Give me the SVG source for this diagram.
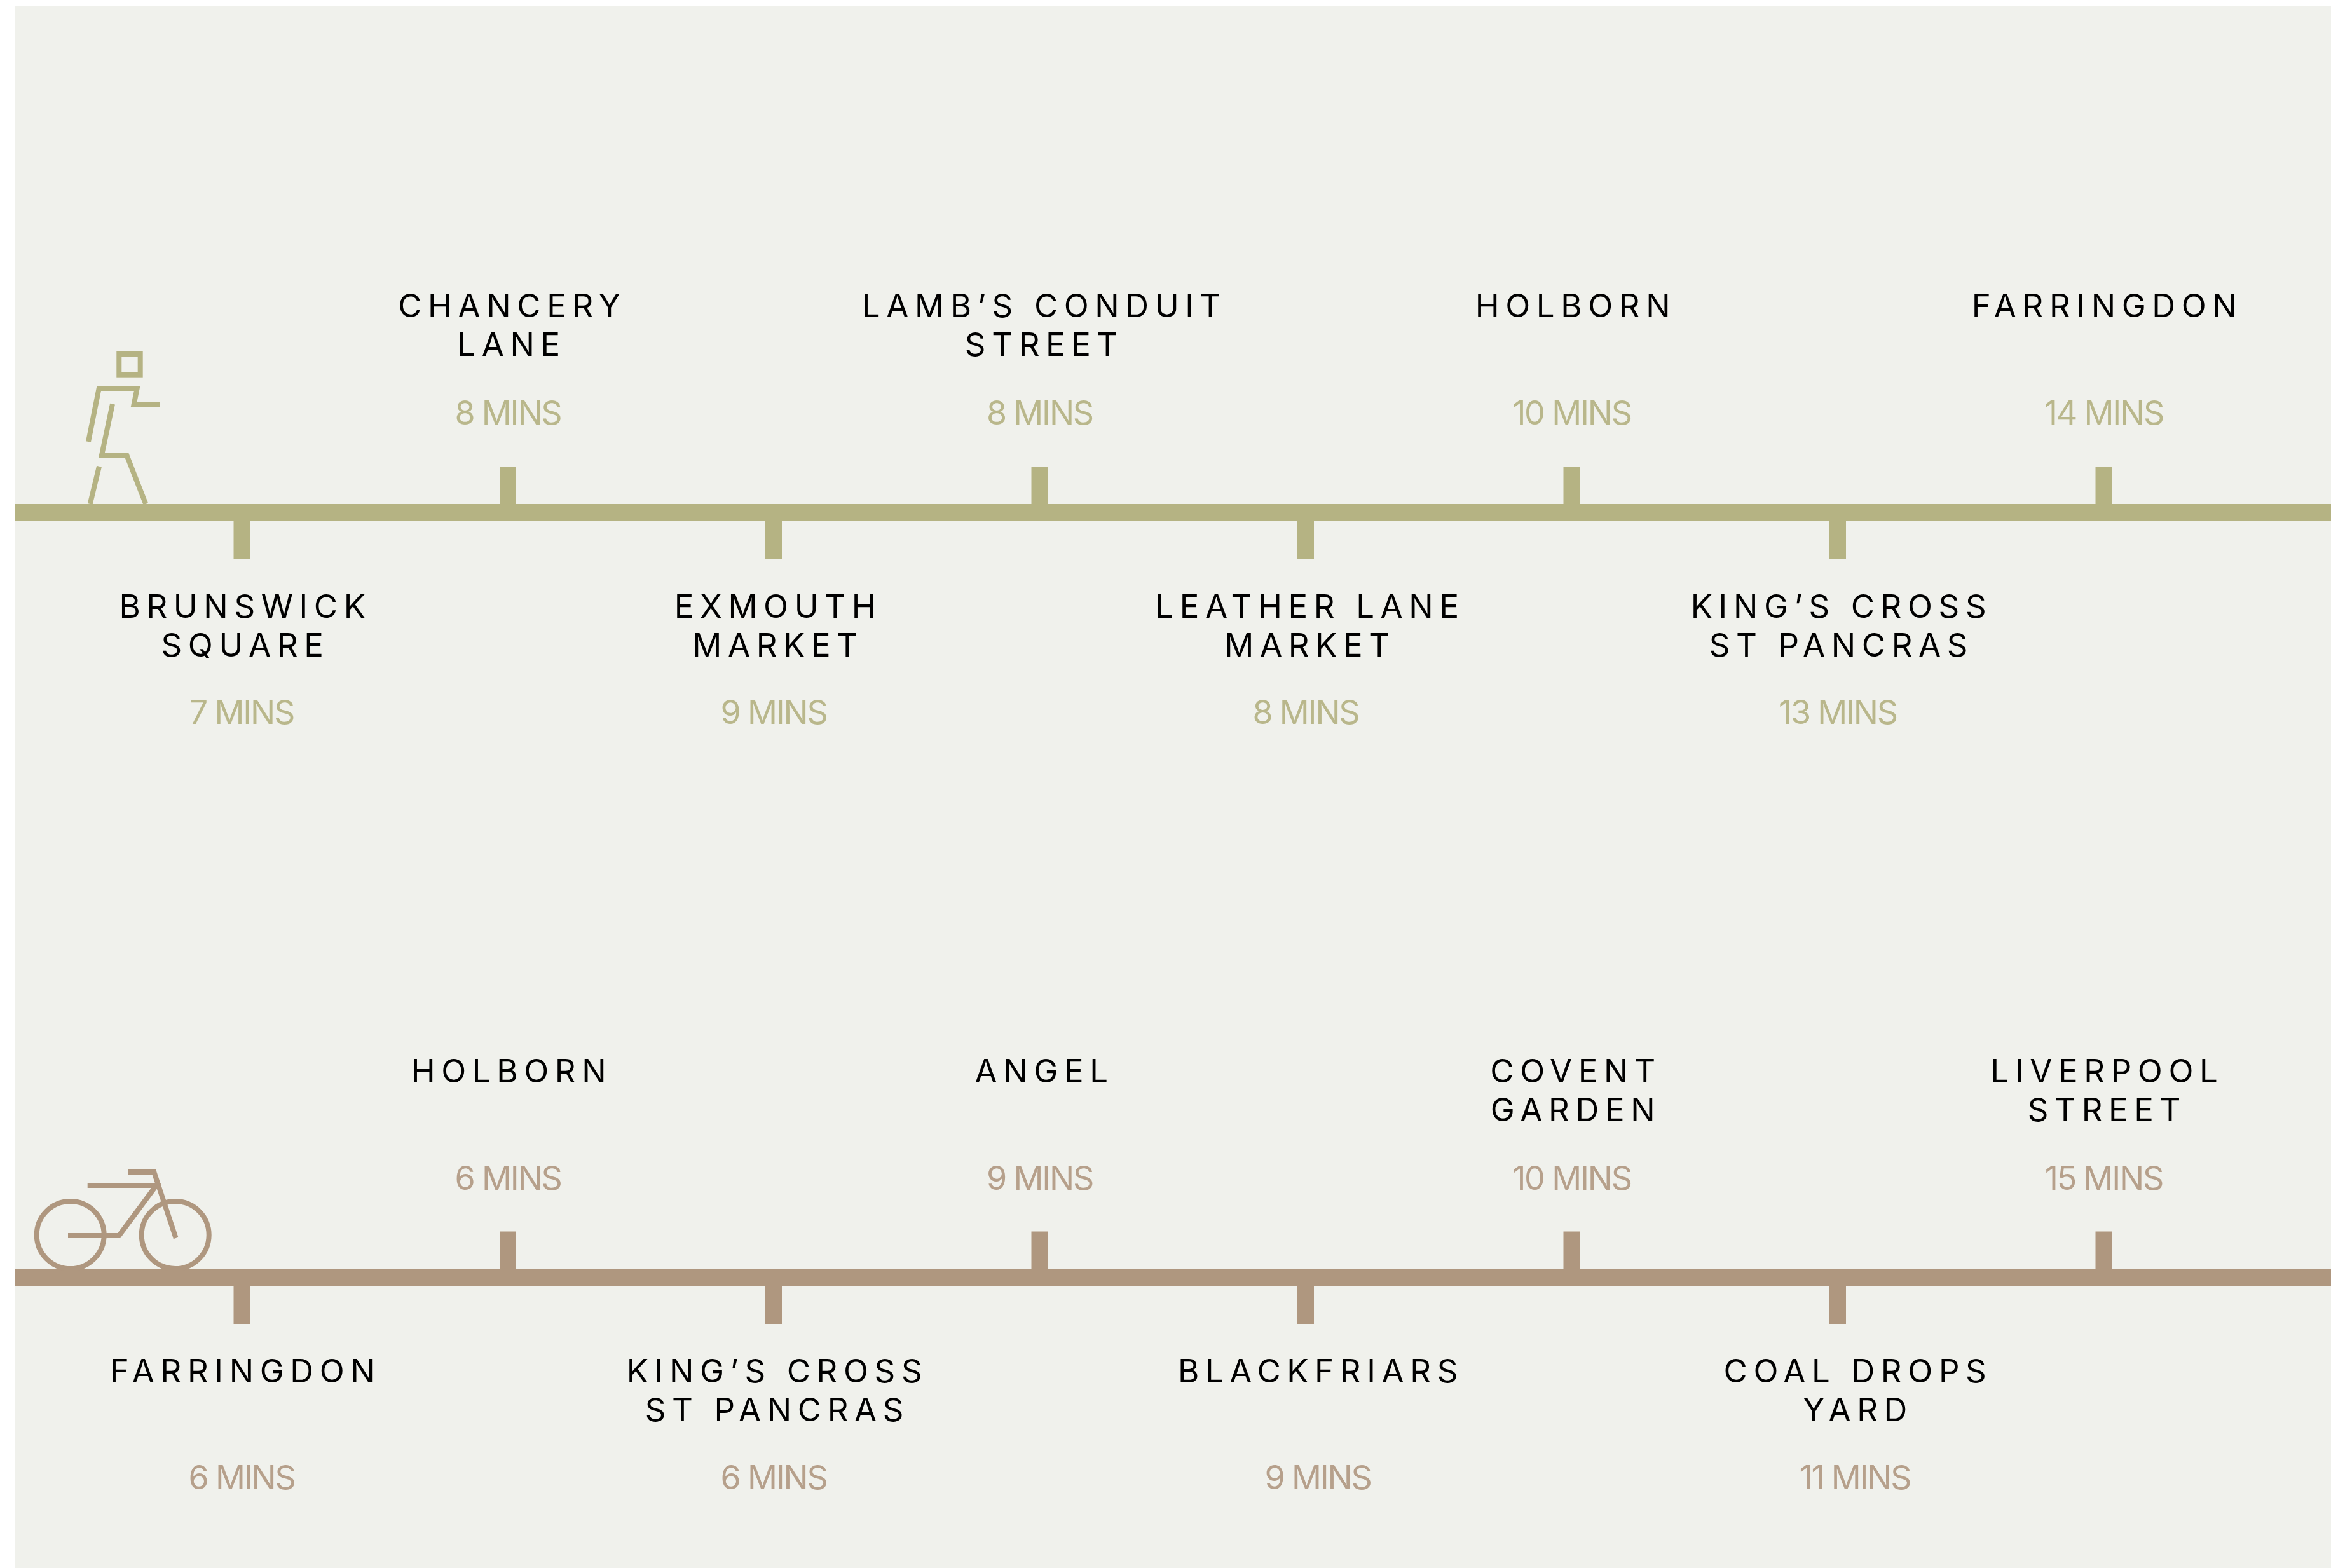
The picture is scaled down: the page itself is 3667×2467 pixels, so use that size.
<svg xmlns="http://www.w3.org/2000/svg" width="3667" height="2467" viewBox="0 0 3667 2467">
<style>
.l{font-family:"Inter","Liberation Sans",sans-serif;font-size:51px;font-weight:400;letter-spacing:9.6px;text-anchor:middle;fill:#000}
.m{font-family:"Inter","Liberation Sans",sans-serif;font-size:52px;font-weight:400;letter-spacing:-2.2px;text-anchor:middle}
.w{fill:#b5b383}.c{fill:#af977f}
.mw{fill:#b9b78b}.mc{fill:#b6a08b}
.iw{fill:none;stroke:#b5b383;stroke-width:8}
.ic{fill:none;stroke:#af977f;stroke-width:8}
</style>
<rect x="24" y="9" width="3643" height="2458" fill="#f0f1ec"/>
<g id="connectors">
<rect class="w" x="24" y="793" width="3643" height="27"/>
<rect class="c" x="24" y="1996" width="3643" height="27"/>
</g>
<g id="walk-icon" class="iw">
<rect x="187.3" y="557" width="33.4" height="32.7"/>
<path d="M139 695L155.7 611H215.7L210.7 636H252"/>
<path d="M177 635.7L160 716H199.3L229.3 793"/>
<path d="M156 733.7L141.7 793"/>
</g>
<g id="bike-icon" class="ic">
<circle cx="110.7" cy="1943" r="53"/>
<circle cx="275.7" cy="1943" r="53"/>
<path d="M201.7 1844H242.3L276.7 1948"/>
<path d="M137.7 1865H246L187.3 1944H107"/>
</g>
<g id="w1"><rect class="w" x="367.5" y="820" width="26" height="60"/><text class="l" x="386" y="971.5">BRUNSWICK</text><text class="l" x="386" y="1032.5">SQUARE</text><text class="m mw" x="380" y="1139">7 MINS</text></g>
<g id="w2"><rect class="w" x="786" y="734.5" width="26" height="58.5"/><text class="l" x="806" y="499">CHANCERY</text><text class="l" x="805" y="560">LANE</text><text class="m mw" x="799" y="667.5">8 MINS</text></g>
<g id="w3"><rect class="w" x="1204" y="820" width="26" height="60"/><text class="l" x="1224" y="971.5">EXMOUTH</text><text class="l" x="1224" y="1032.5">MARKET</text><text class="m mw" x="1217" y="1139">9 MINS</text></g>
<g id="w4"><rect class="w" x="1622.5" y="734.5" width="26" height="58.5"/><text class="l" x="1643" y="499">LAMB’S CONDUIT</text><text class="l" x="1643" y="560">STREET</text><text class="m mw" x="1635.5" y="667.5">8 MINS</text></g>
<g id="w5"><rect class="w" x="2041" y="820" width="26" height="60"/><text class="l" x="2061" y="971.5">LEATHER LANE</text><text class="l" x="2061" y="1032.5">MARKET</text><text class="m mw" x="2054" y="1139">8 MINS</text></g>
<g id="w6"><rect class="w" x="2459.5" y="734.5" width="26" height="58.5"/><text class="l" x="2479" y="499">HOLBORN</text><text class="m mw" x="2472.5" y="667.5">10 MINS</text></g>
<g id="w7"><rect class="w" x="2878" y="820" width="26" height="60"/><text class="l" x="2897" y="971.5">KING’S CROSS</text><text class="l" x="2897" y="1032.5">ST PANCRAS</text><text class="m mw" x="2891" y="1139">13 MINS</text></g>
<g id="w8"><rect class="w" x="3296.5" y="734.5" width="26" height="58.5"/><text class="l" x="3315" y="499">FARRINGDON</text><text class="m mw" x="3309.5" y="667.5">14 MINS</text></g>
<g id="c1"><rect class="c" x="367.5" y="2023" width="26" height="60"/><text class="l" x="386" y="2175">FARRINGDON</text><text class="m mc" x="380" y="2342.5">6 MINS</text></g>
<g id="c2"><rect class="c" x="786" y="1937.5" width="26" height="58.5"/><text class="l" x="805" y="1703">HOLBORN</text><text class="m mc" x="799" y="1871.5">6 MINS</text></g>
<g id="c3"><rect class="c" x="1204" y="2023" width="26" height="60"/><text class="l" x="1223" y="2175">KING’S CROSS</text><text class="l" x="1223" y="2236">ST PANCRAS</text><text class="m mc" x="1217" y="2342.5">6 MINS</text></g>
<g id="c4"><rect class="c" x="1622.5" y="1937.5" width="26" height="58.5"/><text class="l" x="1643" y="1703">ANGEL</text><text class="m mc" x="1635.5" y="1871.5">9 MINS</text></g>
<g id="c5"><rect class="c" x="2041" y="2023" width="26" height="60"/><text class="l" x="2078" y="2175">BLACKFRIARS</text><text class="m mc" x="2073" y="2342.5">9 MINS</text></g>
<g id="c6"><rect class="c" x="2459.5" y="1937.5" width="26" height="58.5"/><text class="l" x="2479" y="1703">COVENT</text><text class="l" x="2479" y="1764">GARDEN</text><text class="m mc" x="2472.5" y="1871.5">10 MINS</text></g>
<g id="c7"><rect class="c" x="2878" y="2023" width="26" height="60"/><text class="l" x="2923" y="2175">COAL DROPS</text><text class="l" x="2923" y="2236">YARD</text><text class="m mc" x="2918" y="2342.5">11 MINS</text></g>
<g id="c8"><rect class="c" x="3296.5" y="1937.5" width="26" height="58.5"/><text class="l" x="3315" y="1703">LIVERPOOL</text><text class="l" x="3315" y="1764">STREET</text><text class="m mc" x="3309.5" y="1871.5">15 MINS</text></g>
</svg>
